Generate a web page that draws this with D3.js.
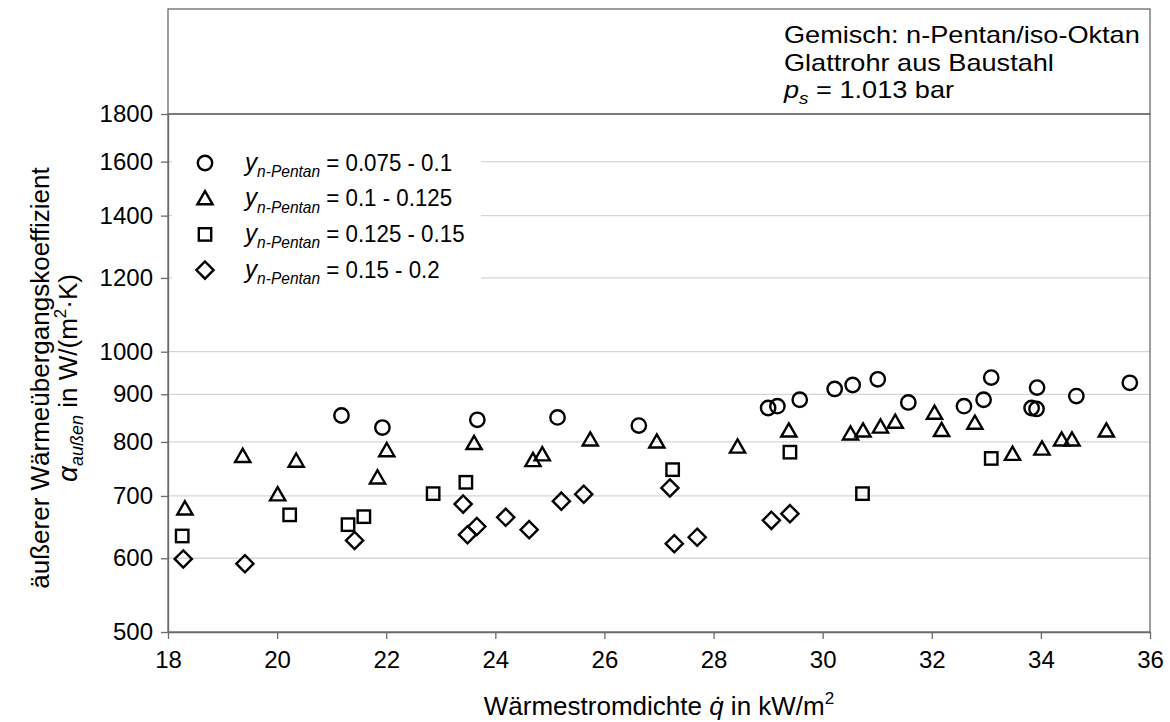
<!DOCTYPE html>
<html>
<head>
<meta charset="utf-8">
<script src="https://cdn.jsdelivr.net/npm/d3@7"></script>
<style>
  html, body { margin: 0; padding: 0; background: #fff; }
  svg { display: block; font-family: "Liberation Sans", Arial, sans-serif; }
</style>
</head>
<body>
<svg id="chart" width="1170" height="722"></svg>
<script>
// tick labels
var xTicks = [18, 20, 22, 24, 26, 28, 30, 32, 34, 36];
var yTicks = [500, 600, 700, 800, 900, 1000, 1200, 1400, 1600, 1800];

// legend ranges for y n-Pentan
var legendRanges = ['0.075 - 0.1', '0.1 - 0.125', '0.125 - 0.15', '0.15 - 0.2'];

// data: [q in kW/m2, alpha in W/(m2 K)]
var circlePts = [
  [21.18, 854], [21.93, 829], [23.67, 845], [25.14, 850], [26.63, 833],
  [29.0, 870], [29.17, 874], [29.58, 888], [30.22, 912], [30.55, 921],
  [31.01, 934], [31.57, 882], [32.59, 874], [32.95, 888], [33.09, 938],
  [33.83, 870], [33.92, 868], [33.93, 915], [34.65, 896], [35.63, 926]
];
var trianglePts = [
  [18.31, 678], [19.37, 772], [20.01, 702], [20.35, 763], [21.84, 732],
  [22.01, 783], [23.61, 797], [24.69, 764], [24.86, 775], [25.74, 804],
  [26.96, 800], [28.44, 790], [29.38, 822], [30.51, 816], [30.74, 822],
  [31.06, 830], [31.33, 840], [32.05, 859], [32.18, 823], [32.79, 838],
  [33.48, 776], [34.02, 786], [34.38, 804], [34.57, 804], [35.2, 822]
];
var squarePts = [
  [18.26, 634], [20.23, 668], [21.3, 652], [21.59, 665], [22.86, 704],
  [23.46, 724], [27.25, 747], [29.4, 780], [30.73, 704], [33.09, 768]
];
var diamondPts = [
  [18.28, 599], [19.41, 592], [21.42, 627], [23.41, 686], [23.49, 636],
  [23.66, 649], [24.19, 664], [24.62, 644], [25.21, 691], [25.62, 703],
  [27.2, 714], [27.28, 622], [27.7, 632], [29.06, 659], [29.4, 670]
];

(function() {
  var svg = d3.select('#chart');
  var plotL = 168, plotR = 1150, plotT = 114, plotB = 632;
  var axisColor = '#6a6a6a';

  var x = d3.scaleLinear().domain([18, 36]).range([plotL, plotR]);
  var y = d3.scaleLog().domain([500, 1800]).range([plotB, plotT]);

  // annotation box above the plot
  svg.append('rect')
    .attr('x', plotL).attr('y', 9)
    .attr('width', plotR - plotL).attr('height', plotT - 9)
    .attr('fill', '#fff').attr('stroke', axisColor).attr('stroke-width', 1.3);

  // grid lines
  svg.append('g')
    .selectAll('line')
    .data(yTicks.filter(function(d) { return d > 500 && d < 1800; }))
    .enter().append('line')
    .attr('x1', plotL).attr('x2', plotR)
    .attr('y1', function(d) { return y(d); })
    .attr('y2', function(d) { return y(d); })
    .attr('stroke', '#d6d6d6').attr('stroke-width', 1.3);

  // plot frame
  svg.append('rect')
    .attr('x', plotL).attr('y', plotT)
    .attr('width', plotR - plotL).attr('height', plotB - plotT)
    .attr('fill', 'none').attr('stroke', axisColor).attr('stroke-width', 1.3);

  // axes
  var yAxis = d3.axisLeft(y).tickValues(yTicks).tickFormat(d3.format('d'))
    .tickSizeInner(7).tickSizeOuter(0).tickPadding(8);
  var xAxis = d3.axisBottom(x).tickValues(xTicks).tickFormat(d3.format('d'))
    .tickSizeInner(7).tickSizeOuter(0).tickPadding(12);

  var gy = svg.append('g').attr('transform', 'translate(' + plotL + ',0)').call(yAxis);
  var gx = svg.append('g').attr('transform', 'translate(0,' + plotB + ')').call(xAxis);

  [gx, gy].forEach(function(g) {
    g.select('.domain').attr('stroke', axisColor).attr('stroke-width', 1.3);
    g.selectAll('.tick line').attr('stroke', axisColor).attr('stroke-width', 1.3);
    g.selectAll('.tick text')
      .attr('fill', '#000')
      .style('font-size', '24px')
      .style('font-family', '"Liberation Sans", Arial, sans-serif');
  });

  // marker shapes
  var markers = {
    circle: function(g) { g.append('circle').attr('r', 7.2); },
    triangle: function(g) { g.append('path').attr('d', 'M0,-7.6 L7.6,5.6 L-7.6,5.6 Z'); },
    square: function(g) { g.append('rect').attr('x', -6.2).attr('y', -6.2).attr('width', 12.4).attr('height', 12.4); },
    diamond: function(g) { g.append('path').attr('d', 'M0,-8.6 L8.6,0 L0,8.6 L-8.6,0 Z'); }
  };

  function drawSeries(pts, type) {
    svg.append('g')
      .selectAll('g')
      .data(pts)
      .enter().append('g')
      .attr('transform', function(d) { return 'translate(' + x(d[0]) + ',' + y(d[1]) + ')'; })
      .each(function() {
        var g = d3.select(this);
        markers[type](g);
        g.selectAll('*').attr('fill', 'none').attr('stroke', '#000').attr('stroke-width', 2.4);
      });
  }

  drawSeries(circlePts, 'circle');
  drawSeries(trianglePts, 'triangle');
  drawSeries(squarePts, 'square');
  drawSeries(diamondPts, 'diamond');

  // legend
  var legend = svg.append('g');
  legend.append('rect')
    .attr('x', 172).attr('y', 140).attr('width', 309).attr('height', 152)
    .attr('fill', '#fff');

  var legendTypes = ['circle', 'triangle', 'square', 'diamond'];
  legendRanges.forEach(function(r, i) {
    var cy = 163 + i * 35.7;
    var m = legend.append('g').attr('transform', 'translate(205,' + cy + ')');
    markers[legendTypes[i]](m);
    m.selectAll('*').attr('fill', '#fff').attr('stroke', '#000').attr('stroke-width', 2.4);

    var t = legend.append('text')
      .attr('transform', 'translate(245,' + (cy + 7.5) + ') scale(0.97,1.06)')
      .style('font-size', '23px');
    t.append('tspan').style('font-style', 'italic').style('font-size', '25px').text('y');
    t.append('tspan').style('font-style', 'italic').style('font-size', '16px')
      .attr('dy', 6).text('n-Pentan');
    t.append('tspan').attr('dy', -6).text(' = ' + r);
  });

  // annotation text (slightly wider glyphs as in the reference)
  var note = svg.append('g').style('font-size', '23px');
  function noteLine(yy) {
    return note.append('text').attr('transform', 'translate(784,' + yy + ') scale(1.18,1)');
  }
  noteLine(43).text('Gemisch: n-Pentan/iso-Oktan');
  noteLine(71).text('Glattrohr aus Baustahl');
  var ps = noteLine(98);
  ps.append('tspan').style('font-style', 'italic').text('p');
  ps.append('tspan').style('font-style', 'italic').style('font-size', '16px').attr('dy', 6).text('s');
  ps.append('tspan').attr('dy', -6).text(' = 1.013 bar');

  // x axis title
  var xt = svg.append('text')
    .attr('x', 659).attr('y', 715)
    .attr('text-anchor', 'middle')
    .style('font-size', '26px');
  xt.append('tspan').text('Wärmestromdichte ');
  xt.append('tspan').style('font-style', 'italic').text('q\u0307');
  xt.append('tspan').text(' in kW/m');
  xt.append('tspan').style('font-size', '17px').attr('dy', -11).text('2');

  // y axis title
  svg.append('text')
    .attr('transform', 'translate(49,378) rotate(-90)')
    .attr('text-anchor', 'middle')
    .style('font-size', '26px')
    .text('äußerer Wärmeübergangskoeffizient');

  var yt2 = svg.append('text')
    .attr('transform', 'translate(77,378) rotate(-90)')
    .attr('text-anchor', 'middle')
    .style('font-size', '26px');
  yt2.append('tspan').style('font-style', 'italic').style('font-size', '28px').text('\u03b1');
  yt2.append('tspan').style('font-style', 'italic').style('font-size', '18px').attr('dy', 6).text('außen');
  yt2.append('tspan').attr('dy', -6).text(' in W/(m');
  yt2.append('tspan').style('font-size', '17px').attr('dy', -11).text('2');
  yt2.append('tspan').attr('dy', 11).text('·K)');
})();
</script>
</body>
</html>
